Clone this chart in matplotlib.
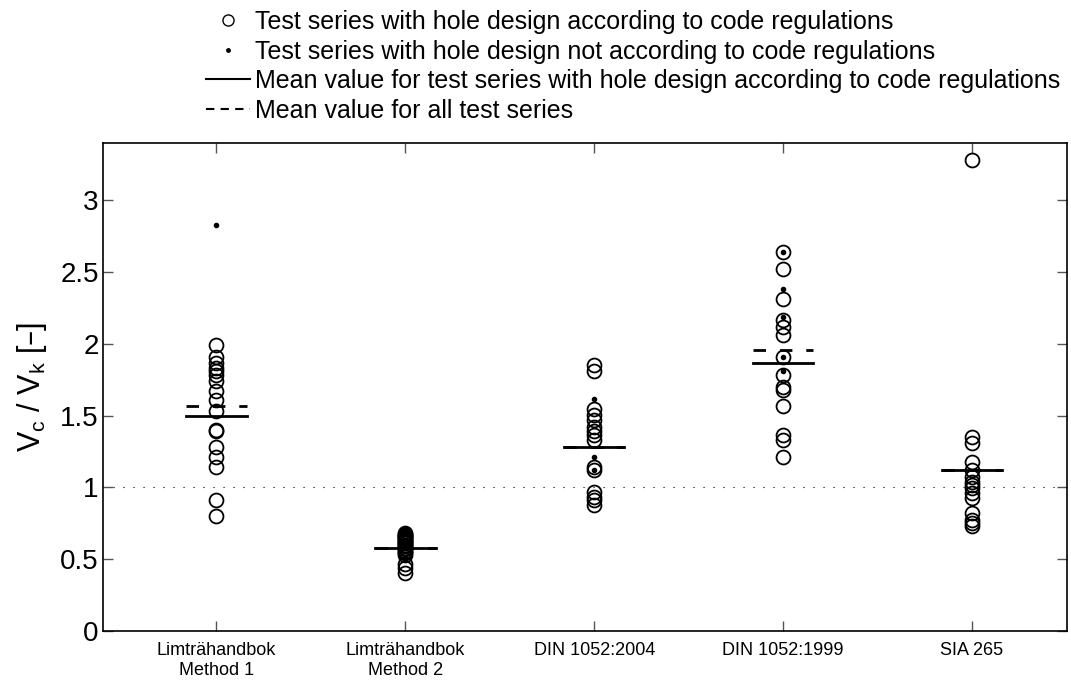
import matplotlib.pyplot as plt
from matplotlib.lines import Line2D

plt.rcParams['font.family'] = ['Liberation Sans', 'DejaVu Sans']
plt.rcParams['mathtext.default'] = 'regular'

categories = ['Limträhandbok\nMethod 1', 'Limträhandbok\nMethod 2',
              'DIN 1052:2004', 'DIN 1052:1999', 'SIA 265']

# test series with hole design according to code regulations
code_ok = [
    [1.99, 1.91, 1.865, 1.83, 1.81, 1.78, 1.74, 1.67, 1.61, 1.53, 1.40, 1.39,
     1.28, 1.215, 1.145, 0.91, 0.80],
    [0.68, 0.675, 0.67, 0.665, 0.66, 0.655, 0.65, 0.64, 0.635, 0.63, 0.62,
     0.615, 0.61, 0.60, 0.595, 0.59, 0.58, 0.57, 0.56, 0.55, 0.54, 0.53,
     0.47, 0.44, 0.405],
    [1.85, 1.81, 1.55, 1.505, 1.47, 1.42, 1.39, 1.365, 1.33, 1.14, 1.12,
     0.97, 0.935, 0.91, 0.88],
    [2.64, 2.52, 2.31, 2.17, 2.12, 2.06, 1.91, 1.78, 1.70, 1.68, 1.57,
     1.365, 1.33, 1.21],
    [3.28, 1.35, 1.31, 1.18, 1.12, 1.075, 1.04, 1.015, 0.995, 0.96, 0.925,
     0.82, 0.77, 0.75, 0.73],
]
# test series with hole design not according to code regulations
code_not = [
    [2.83],
    [],
    [1.615, 1.21, 1.12],
    [2.64, 2.38, 2.19, 1.91, 1.81],
    [],
]
mean_code = [1.50, 0.58, 1.28, 1.87, 1.12]
mean_all = [1.57, 0.58, 1.28, 1.96, 1.12]

fig = plt.figure(figsize=(10.71, 6.89), dpi=100)
ax = fig.add_axes([0.0962, 0.0842, 0.8996, 0.7083])

ax.axhline(1, color='k', lw=0.8, ls=(0, (1, 8)), zorder=1)

hw = 0.16
for i in range(len(categories)):
    x = i + 1
    ax.plot([x] * len(code_ok[i]), code_ok[i], 'o', mfc='none', mec='k',
            ms=10, mew=1.3, zorder=3)
    if code_not[i]:
        ax.plot([x] * len(code_not[i]), code_not[i], 'o', color='k', ms=3,
                zorder=4)
    ax.plot([x - hw, x + hw], [mean_code[i]] * 2, color='k', lw=2, zorder=5)
    ax.plot([x - hw, x + hw], [mean_all[i]] * 2, color='k', lw=2,
            ls=(0, (4.5, 5)), zorder=5)

ax.set_xlim(0.4, 5.5)
ax.set_ylim(0, 3.4)
ax.set_xticks(range(1, 6))
ax.set_xticklabels(categories, fontsize=13, linespacing=1.25)
ax.set_yticks([0, 0.5, 1, 1.5, 2, 2.5, 3])
ax.set_yticklabels(['0', '0.5', '1', '1.5', '2', '2.5', '3'])
ax.tick_params(direction='in', length=7, width=1, color='#555555',
               top=True, right=True)
ax.tick_params(axis='x', pad=8)
ax.tick_params(axis='y', labelsize=20, pad=3)
for s in ax.spines.values():
    s.set_linewidth(1.2)
ax.set_ylabel('V$_c$ / V$_k$ [–]', fontsize=22, labelpad=8)

handles = [
    Line2D([], [], ls='none', marker='o', mfc='none', mec='k', ms=8, mew=1),
    Line2D([], [], ls='none', marker='o', color='k', ms=2.5),
    Line2D([], [], color='k', lw=1.5),
    Line2D([], [], color='k', lw=1.5, ls=(0, (4, 3))),
]
labels = [
    'Test series with hole design according to code regulations',
    'Test series with hole design not according to code regulations',
    'Mean value for test series with hole design according to code regulations',
    'Mean value for all test series',
]
fig.legend(handles, labels, loc='upper left', bbox_to_anchor=(0.183, 1.0),
           frameon=False, fontsize=18, handlelength=1.75, handletextpad=0.2,
           labelspacing=0.22, borderaxespad=0)

fig.savefig('out.png', dpi=100)
